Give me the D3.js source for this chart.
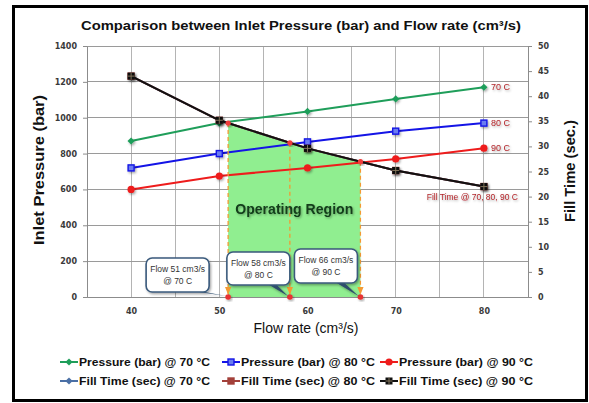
<!DOCTYPE html>
<html><head><meta charset="utf-8">
<script src="https://cdn.jsdelivr.net/npm/d3@7"></script>
<style>body{margin:0;background:#fff}svg{display:block}</style>
</head><body><svg id="c" width="589" height="403"></svg>
<script>
// ---- data ----
const flowRates = [40, 50, 60, 70, 80];
const pressure70 = [870, 970, 1035, 1105, 1170];
const pressure80 = [720, 800, 865, 925, 970];
const pressure90 = [600, 675, 720, 770, 830];
const fillTime70 = [44, 35.2, 29.6, 25.2, 22];
const fillTime80 = [44, 35.2, 29.6, 25.2, 22];
const fillTime90 = [44, 35.2, 29.6, 25.2, 22];
const xTicks = [40, 50, 60, 70, 80];
const xGrid = [35, 40, 45, 50, 55, 60, 65, 70, 75, 80, 85];
const leftTicks = [0, 200, 400, 600, 800, 1000, 1200, 1400];
const rightTicks = [0, 5, 10, 15, 20, 25, 30, 35, 40, 45, 50];
const operatingFlows = [51, 58, 66];
const operatingTemps = ["70 C", "80 C", "90 C"];
const seriesEndLabels = ["70 C", "80 C", "90 C"];
const fillTimeLabel = "Fill Time @ 70, 80, 90 C";
const regionLabel = "Operating Region";
const titleText = "Comparison between Inlet Pressure (bar) and Flow rate (cm³/s)";
const xTitle = "Flow rate (cm³/s)";
const yLeftTitle = "Inlet Pressure (bar)";
const yRightTitle = "Fill Time (sec.)";
const legendRow1 = ["Pressure (bar) @ 70 °C", "Pressure (bar) @ 80 °C", "Pressure (bar) @ 90 °C"];
const legendRow2 = ["Fill Time (sec) @ 70 °C", "Fill Time (sec) @ 80 °C", "Fill Time (sec) @ 90 °C"];

const svg = d3.select("#c");
const defs = svg.append("defs");
const sh = defs.append("filter").attr("id","sh").attr("x","-30%").attr("y","-30%").attr("width","160%").attr("height","160%");
sh.append("feDropShadow").attr("dx",1.2).attr("dy",1.5).attr("stdDeviation",1).attr("flood-color","#000").attr("flood-opacity",0.35);
const tsh = defs.append("filter").attr("id","tsh").attr("x","-10%").attr("y","-30%").attr("width","120%").attr("height","160%");
tsh.append("feDropShadow").attr("dx",1).attr("dy",1.2).attr("stdDeviation",0.8).attr("flood-color","#000").attr("flood-opacity",0.35);
defs.append("marker").attr("id","arr").attr("viewBox","0 0 10 10").attr("refX",9).attr("refY",5)
  .attr("markerWidth",6).attr("markerHeight",6).attr("orient","auto")
  .append("path").attr("d","M0,1L10,5L0,9z").attr("fill","#f39a33");

// frame
svg.append("rect").attr("x",13.5).attr("y",6.5).attr("width",573).attr("height",394)
  .attr("fill","#fff").attr("stroke","#000").attr("stroke-width",3);

const x = d3.scaleLinear().domain([35, 85]).range([87, 528]);
const yL = d3.scaleLinear().domain([0, 1400]).range([297, 46]);
const yR = d3.scaleLinear().domain([0, 50]).range([297, 46]);

// grid
const g = svg.append("g");
g.selectAll(".vg").data(xGrid).join("line")
  .attr("x1",d=>x(d)).attr("x2",d=>x(d)).attr("y1",yL(1400)).attr("y2",yL(0))
  .attr("stroke","#b4b4b4").attr("stroke-width",1).attr("shape-rendering","crispEdges");
g.selectAll(".hg").data(leftTicks).join("line")
  .attr("x1",x(35)).attr("x2",x(85)).attr("y1",d=>yL(d)).attr("y2",d=>yL(d))
  .attr("stroke","#9a9a9a").attr("stroke-width",1).attr("shape-rendering","crispEdges");

// operating region fill
const fillAt = d3.scaleLinear().domain(flowRates).range(fillTime90);
const regionFlows = [operatingFlows[0], ...flowRates.filter(f => f > operatingFlows[0] && f < operatingFlows[2]), operatingFlows[2]];
svg.append("path").datum(regionFlows)
  .attr("d", d3.area().x(d=>x(d)).y0(yL(0)).y1(d=>yR(fillAt(d))))
  .attr("fill","#90ee90");

// axes
function styleAxis(sel){
  sel.selectAll("path").attr("stroke","#8c8c8c");
  sel.selectAll("line").attr("stroke","#8c8c8c");
  sel.selectAll("text").attr("font-family","DejaVu Sans, Verdana, sans-serif").attr("font-weight","bold")
    .attr("font-size","8px").attr("fill","#3a3a3a");
}
svg.append("g").attr("transform",`translate(${x(35)},0)`)
  .call(d3.axisLeft(yL).tickValues(leftTicks).tickFormat(d3.format("d")).tickSize(4).tickPadding(6).tickSizeOuter(0)).call(styleAxis);
svg.append("g").attr("transform",`translate(${x(85)},0)`)
  .call(d3.axisRight(yR).tickValues(rightTicks).tickFormat(d3.format("d")).tickSize(4).tickPadding(6).tickSizeOuter(0)).call(styleAxis);
svg.append("g").attr("transform",`translate(0,${yL(0)})`)
  .call(d3.axisBottom(x).tickValues(xTicks).tickFormat(d3.format("d")).tickSize(0).tickPadding(11).tickSizeOuter(0)).call(styleAxis)
  .select(".domain").attr("stroke","#8c8c8c");

// series
const lineGen = (ys, scale) => d3.line().x((d,i)=>x(flowRates[i])).y(d=>scale(d))(ys);
function diamond(sel, cx, cy, r, color){
  sel.append("path").attr("d",`M${cx},${cy-r}L${cx+r},${cy}L${cx},${cy+r}L${cx-r},${cy}Z`).attr("fill",color);
}
function square(sel, cx, cy, s, color, inner){
  sel.append("rect").attr("x",cx-s/2).attr("y",cy-s/2).attr("width",s).attr("height",s)
    .attr("fill",inner||color).attr("stroke",color).attr("stroke-width",1.4);
}
function circle(sel, cx, cy, r, color){
  sel.append("circle").attr("cx",cx).attr("cy",cy).attr("r",r).attr("fill",color);
}
function crossSquare(sel, cx, cy, s){
  sel.append("rect").attr("x",cx-s/2).attr("y",cy-s/2).attr("width",s).attr("height",s).attr("fill","#111");
  sel.append("path").attr("d",`M${cx-s/2},${cy}H${cx+s/2}M${cx},${cy-s/2}V${cy+s/2}`).attr("stroke","#8a7a60").attr("stroke-width",0.9);
}

const series = [
  {vals: pressure70, scale: yL, color:"#1f9e5a", mk:(s,cx,cy)=>diamond(s,cx,cy,3.6,"#1f9e5a")},
  {vals: pressure80, scale: yL, color:"#1414e6", mk:(s,cx,cy)=>square(s,cx,cy,6,"#1414e6","#6a7cf0")},
  {vals: pressure90, scale: yL, color:"#ee1c1c", mk:(s,cx,cy)=>circle(s,cx,cy,3.6,"#ee1c1c")},
  {vals: fillTime70, scale: yR, color:"#4a6fa5", mk:(s,cx,cy)=>diamond(s,cx,cy,3.6,"#4a6fa5")},
  {vals: fillTime80, scale: yR, color:"#a3403a", mk:(s,cx,cy)=>square(s,cx,cy,6,"#a3403a")},
  {vals: fillTime90, scale: yR, color:"#111", mk:(s,cx,cy)=>crossSquare(s,cx,cy,7)}
];
series.forEach(s=>{
  const gg = svg.append("g");
  gg.append("path").attr("d", lineGen(s.vals, s.scale)).attr("fill","none")
    .attr("stroke", s.color).attr("stroke-width", 2);
  const mg = gg.append("g").attr("filter","url(#sh)");
  s.vals.forEach((v,i)=>s.mk(mg, x(flowRates[i]), s.scale(v)));
});

// dashed guide lines + intersection dots
operatingFlows.forEach(f=>{
  const yi = yR(fillAt(f));
  svg.append("line").attr("x1",x(f)).attr("x2",x(f)).attr("y1",yi).attr("y2",yL(0)-3)
    .attr("stroke","#f39a33").attr("stroke-width",1.3).attr("stroke-dasharray","4,3")
    .attr("marker-end","url(#arr)");
  svg.append("circle").attr("cx",x(f)).attr("cy",yi).attr("r",2.6).attr("fill","#f03c3c").attr("filter","url(#sh)");
  svg.append("circle").attr("cx",x(f)).attr("cy",yL(0)).attr("r",2.8).attr("fill","#e83030").attr("filter","url(#sh)");
});

// operating region label
svg.append("text").attr("x",(x(operatingFlows[0])+x(operatingFlows[2]))/2).attr("y",214)
  .attr("text-anchor","middle").attr("font-family","Liberation Sans, Arial, sans-serif")
  .attr("font-weight","bold").attr("font-size","14px").attr("fill","#123c1a")
  .attr("textLength",118).attr("lengthAdjust","spacingAndGlyphs")
  .attr("filter","url(#tsh)").text(regionLabel);

// callouts
const calloutOffsets = [{dx:-82, top:258, h:34}, {dx:-63, top:252, h:33}, {dx:-66, top:249, h:34}];
operatingFlows.forEach((f,i)=>{
  const px = x(f), py = yL(0);
  const o = calloutOffsets[i];
  const bx = px + o.dx, bw = 63;
  const cg = svg.append("g").attr("filter","url(#sh)");
  const sx = bx + bw - 20, sy = o.top + o.h - 2;
  cg.append("path").attr("d",`M${sx-4},${sy}L${sx+5},${sy}L${px-2},${py-1}Z`).attr("fill","#2e4d6c");
  cg.append("rect").attr("x",bx).attr("y",o.top).attr("width",bw).attr("height",o.h)
    .attr("rx",6).attr("fill","#fff").attr("stroke","#3a5a7c").attr("stroke-width",1.6);
  const tg = svg.append("g").attr("font-family","Liberation Sans, Arial, sans-serif")
    .attr("font-size","8.5px").attr("fill","#333").attr("text-anchor","middle");
  tg.append("text").attr("x",bx+bw/2).attr("y",o.top+14).text(`Flow ${f} cm3/s`);
  tg.append("text").attr("x",bx+bw/2).attr("y",o.top+26).text(`@ ${operatingTemps[i]}`);
});

// end labels
[pressure70, pressure80, pressure90].forEach((arr,i)=>{
  svg.append("text").attr("x",x(80)+7).attr("y",yL(arr[arr.length-1])+3)
    .attr("font-family","Liberation Sans, Arial, sans-serif").attr("font-size","9px")
    .attr("fill","#b3262b").attr("filter","url(#tsh)").text(seriesEndLabels[i]);
});
svg.append("text").attr("x",518).attr("y",yR(fillTime90[fillTime90.length-1])+13)
  .attr("text-anchor","end").attr("font-family","Liberation Sans, Arial, sans-serif").attr("font-size","8.5px")
  .attr("fill","#b3262b").attr("filter","url(#tsh)").text(fillTimeLabel);

// titles
svg.append("text").attr("x",301).attr("y",30).attr("text-anchor","middle")
  .attr("font-family","Liberation Sans, Arial, sans-serif").attr("font-weight","bold").attr("font-size","13.5px")
  .attr("fill","#111").attr("textLength",440).attr("lengthAdjust","spacingAndGlyphs").text(titleText);
svg.append("text").attr("x",306).attr("y",333).attr("text-anchor","middle")
  .attr("font-family","Liberation Sans, Arial, sans-serif").attr("font-size","14px").attr("fill","#111")
  .text(xTitle);
svg.append("text").attr("transform","translate(44,170) rotate(-90)").attr("text-anchor","middle")
  .attr("font-family","Liberation Sans, Arial, sans-serif").attr("font-weight","bold").attr("font-size","14px").attr("fill","#111")
  .attr("textLength",150).attr("lengthAdjust","spacingAndGlyphs")
  .text(yLeftTitle);
svg.append("text").attr("transform","translate(575,171) rotate(-90)").attr("text-anchor","middle")
  .attr("font-family","Liberation Sans, Arial, sans-serif").attr("font-weight","bold").attr("font-size","14px").attr("fill","#111")
  .attr("textLength",102).attr("lengthAdjust","spacingAndGlyphs")
  .text(yRightTitle);

// legend
const legCols = [60, 222, 380];
const legRows = [{y:366, labels:legendRow1, sIdx:[0,1,2]}, {y:385, labels:legendRow2, sIdx:[3,4,5]}];
legRows.forEach(r=>{
  r.labels.forEach((lab,j)=>{
    const s = series[r.sIdx[j]];
    const lx = legCols[j];
    const lg = svg.append("g");
    lg.append("line").attr("x1",lx).attr("x2",lx+18).attr("y1",r.y-4).attr("y2",r.y-4)
      .attr("stroke",s.color).attr("stroke-width",2);
    s.mk(lg, lx+9, r.y-4);
    lg.append("text").attr("x",lx+19).attr("y",r.y)
      .attr("font-family","Liberation Sans, Arial, sans-serif").attr("font-weight","bold").attr("font-size","11px")
      .attr("fill","#111").attr("textLength", j===0?131:134).attr("lengthAdjust","spacingAndGlyphs").text(lab);
  });
});
</script>
</body></html>
